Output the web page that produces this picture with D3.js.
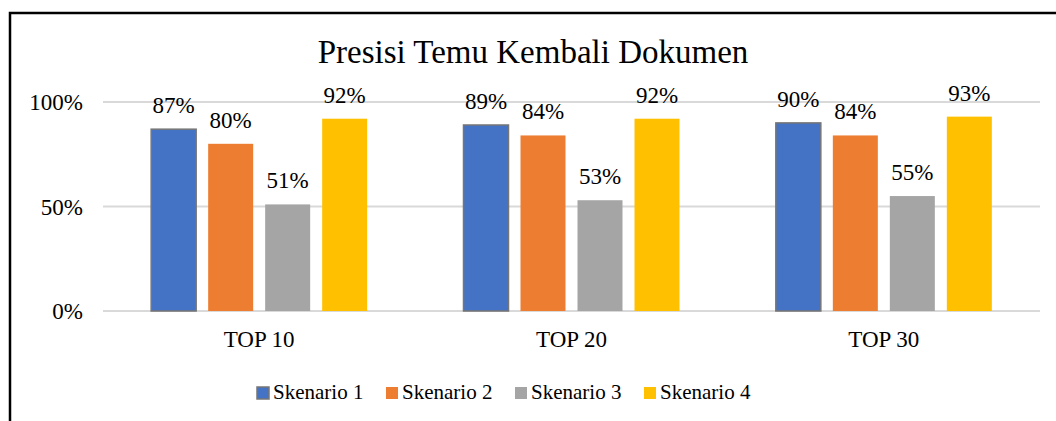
<!DOCTYPE html>
<html>
<head>
<meta charset="utf-8">
<script src="https://cdn.jsdelivr.net/npm/d3@7"></script>
<style>
  body { margin: 0; background: #fff; }
</style>
</head>
<body>
<div id="chart"></div>
<script>
// chart data
const categories = ['TOP 10', 'TOP 20', 'TOP 30'];
const seriesNames = ['Skenario 1', 'Skenario 2', 'Skenario 3', 'Skenario 4'];
const skenario1 = [0.87, 0.89, 0.90];
const skenario2 = [0.80, 0.84, 0.84];
const skenario3 = [0.51, 0.53, 0.55];
const skenario4 = [0.92, 0.92, 0.93];
const yTicks = [0, 0.5, 1];
const colors = ['#4472c4', '#ed7d31', '#a5a5a5', '#ffc000'];

const seriesValues = [skenario1, skenario2, skenario3, skenario4];

const width = 1056, height = 421;
const margin = { top: 102, right: 16, bottom: 110, left: 103 };
const serif = "'Liberation Serif', 'Times New Roman', serif";

const svg = d3.select('#chart')
  .append('svg')
  .attr('width', width)
  .attr('height', height)
  .attr('font-family', serif);

// outer frame
svg.append('rect')
  .attr('x', 10)
  .attr('y', 13)
  .attr('width', 1100)
  .attr('height', 600)
  .attr('fill', 'none')
  .attr('stroke', '#000')
  .attr('stroke-width', 2.5);

// title
svg.append('text')
  .attr('x', 533)
  .attr('y', 63)
  .attr('text-anchor', 'middle')
  .attr('font-family', serif)
  .attr('font-size', 33)
  .text('Presisi Temu Kembali Dokumen');

const x0 = d3.scaleBand()
  .domain(categories)
  .range([margin.left, width - margin.right]);

const x1 = d3.scaleBand()
  .domain(seriesNames)
  .range([(x0.bandwidth() - 216) / 2, (x0.bandwidth() + 216) / 2])
  .paddingInner(12 / 57);

const y = d3.scaleLinear()
  .domain([0, 1])
  .range([height - margin.bottom, margin.top]);

// gridlines
svg.append('g')
  .selectAll('line')
  .data(yTicks)
  .join('line')
  .attr('x1', margin.left)
  .attr('x2', width - margin.right)
  .attr('y1', (d) => y(d))
  .attr('y2', (d) => y(d))
  .attr('stroke', '#d9d9d9')
  .attr('stroke-width', 2);

// y tick labels
svg.append('g')
  .selectAll('text')
  .data(yTicks)
  .join('text')
  .attr('x', 83)
  .attr('y', (d) => y(d))
  .attr('dy', '0.35em')
  .attr('text-anchor', 'end')
  .attr('font-family', serif)
  .attr('font-size', 23)
  .text((d) => d3.format('.0%')(d));

// bars
const groups = svg.append('g')
  .selectAll('g')
  .data(categories)
  .join('g')
  .attr('transform', (d) => `translate(${x0(d)},0)`);

groups.selectAll('rect')
  .data((c, i) => seriesNames.map((s, j) => ({ s, j, v: seriesValues[j][i] })))
  .join('rect')
  .attr('x', (d) => x1(d.s))
  .attr('y', (d) => y(d.v))
  .attr('width', x1.bandwidth())
  .attr('height', (d) => y(0) - y(d.v))
  .attr('fill', (d) => colors[d.j])
  .attr('stroke', (d) => (d.j === 0 ? '#767676' : 'none'))
  .attr('stroke-width', 1.5);

// data labels
groups.selectAll('text')
  .data((c, i) => seriesNames.map((s, j) => ({ s, j, v: seriesValues[j][i] })))
  .join('text')
  .attr('x', (d) => x1(d.s) + x1.bandwidth() / 2)
  .attr('y', (d) => y(d.v) - 16)
  .attr('text-anchor', 'middle')
  .attr('font-family', serif)
  .attr('font-size', 23)
  .text((d) => d3.format('.0%')(d.v));

// category labels
svg.append('g')
  .selectAll('text')
  .data(categories)
  .join('text')
  .attr('x', (d) => x0(d) + x0.bandwidth() / 2)
  .attr('y', 347)
  .attr('text-anchor', 'middle')
  .attr('font-family', serif)
  .attr('font-size', 23)
  .text((d) => d);

// legend
const legend = svg.append('g')
  .selectAll('g')
  .data(seriesNames)
  .join('g')
  .attr('transform', (d, i) => `translate(${257 + i * 129},387)`);

legend.append('rect')
  .attr('width', 12)
  .attr('height', 12)
  .attr('fill', (d, i) => colors[i])
  .attr('stroke', (d, i) => (i === 0 ? '#767676' : 'none'))
  .attr('stroke-width', 1.5);

legend.append('text')
  .attr('x', 16)
  .attr('y', 12)
  .attr('font-family', serif)
  .attr('font-size', 21)
  .text((d) => d);
</script>
</body>
</html>
